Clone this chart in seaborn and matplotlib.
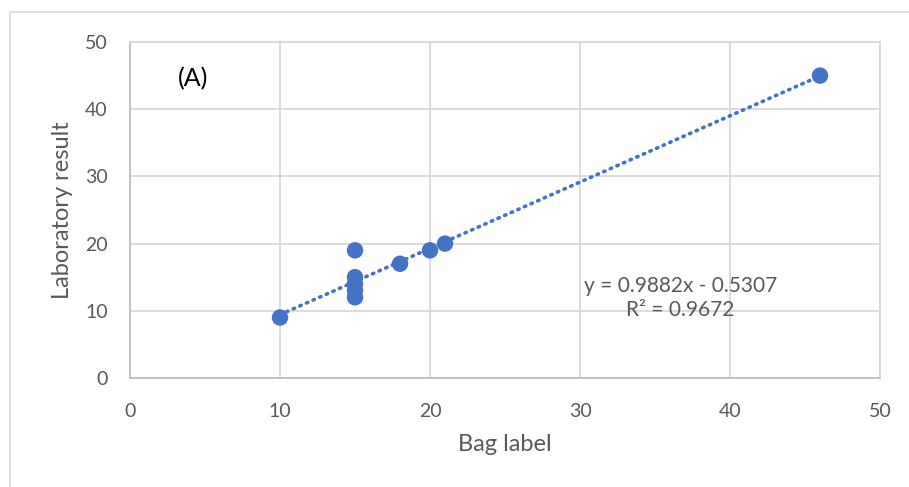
import matplotlib
matplotlib.use("Agg")
import matplotlib.pyplot as plt
import seaborn as sns
import numpy as np
import pandas as pd
from matplotlib.patches import Rectangle

bag_label = [10, 15, 15, 15, 15, 15, 18, 20, 21, 46]
lab_result = [9, 19, 15, 14, 13, 12, 17, 19, 20, 45]
equation_text = "y = 0.9882x - 0.5307\nR² = 0.9672"
panel_label = "(A)"
x_ticks = [0, 10, 20, 30, 40, 50]
y_ticks = [0, 10, 20, 30, 40, 50]

df = pd.DataFrame({"Bag label": bag_label, "Laboratory result": lab_result})

sns.set_theme(style="white")
plt.rcParams["font.family"] = ["Lato", "DejaVu Sans"]

blue = "#4472C4"
grid_c = "#D9D9D9"
text_c = "#595959"

fig = plt.figure(figsize=(9.09, 4.87), dpi=100)
ax = fig.add_axes([130/909, 1-378/487, 750/909, 336/487])

sns.regplot(data=df, x="Bag label", y="Laboratory result", ax=ax, ci=None,
            truncate=True,
            scatter_kws=dict(s=140, color=blue, edgecolor="none", alpha=1, zorder=3),
            line_kws=dict(color=blue, linewidth=2.6, linestyle=(0, (0.4, 1.6)),
                          dash_capstyle="round", zorder=2))

ax.set_xlim(0, 50)
ax.set_ylim(0, 50)
ax.set_xticks(x_ticks)
ax.set_yticks(y_ticks)
ax.grid(True, color=grid_c, linewidth=1.3)
ax.set_axisbelow(True)
for sp in ax.spines.values():
    sp.set_color(grid_c)
    sp.set_linewidth(1.3)
ax.spines["left"].set_color("#BFBFBF")
ax.spines["bottom"].set_color("#BFBFBF")
ax.tick_params(axis="x", length=0, labelsize=14, colors=text_c, pad=18)
ax.tick_params(axis="y", length=0, labelsize=14, colors=text_c, pad=16)
ax.set_xlabel("Bag label", fontsize=17, color=text_c, labelpad=10)
ax.set_ylabel("Laboratory result", fontsize=17, color=text_c, labelpad=9)

ax.text(4.2, 44.6, panel_label, fontsize=18, color="black", ha="center", va="center")
ax.text(36.7, 11.9, equation_text, fontsize=15, color=text_c, ha="center",
        va="center", linespacing=1.2)

fig.patches.append(Rectangle((10/909, -0.1), 1.0, 1.1 - 12/487,
                             transform=fig.transFigure, fill=False,
                             edgecolor=grid_c, linewidth=1.2))

fig.savefig("out.png", dpi=100, facecolor="white")
